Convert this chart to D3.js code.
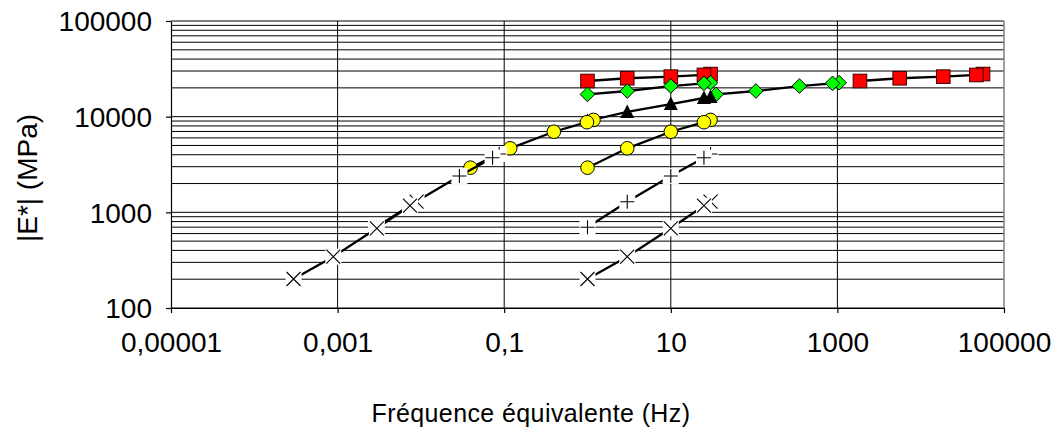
<!DOCTYPE html>
<html><head><meta charset="utf-8">
<script src="https://cdn.jsdelivr.net/npm/d3@7/dist/d3.min.js"></script>
<style>body{margin:0;background:#fff}svg{display:block}</style>
</head><body><svg id="c" width="1058" height="445"></svg>
<script>
// ---- data ----
const xTickValues = [1e-5, 1e-3, 1e-1, 10, 1000, 100000];
const xTickLabels = ["0,00001", "0,001", "0,1", "10", "1000", "100000"];
const yTickValues = [100, 1000, 10000, 100000];
const yTickLabels = ["100", "1000", "10000", "100000"];

const freqRaw = [30, 25, 10, 3, 1];
const eRed    = [27900, 27300, 26200, 25200, 23600];
const eGreen  = [22650, 22300, 20900, 18550, 17100];
const eTri    = [16060, 15670, 13560, 11200, 9010];
const eYellow = [9250, 8750, 6960, 4670, 2930];
const ePlus   = [4070, 3725, 2400, 1291, 698];
const eCross  = [1291, 1173, 681, 344, 201];

const fRedShift    = [56000, 46650, 18660, 5600, 1866];
const fGreenShift  = [1050, 875, 350, 105, 35];
const fYellowShift = [1.18, 0.985, 0.394, 0.118, 0.0394];
const fPlusShift   = [0.087, 0.0725, 0.029, 0.0087, 0.0029];
const fCrossShift  = [0.00888, 0.0074, 0.00296, 0.000888, 0.000296];

const series = [
  {f: freqRaw, e: eRed, m: "square"},
  {f: fRedShift, e: eRed, m: "square"},
  {f: freqRaw, e: eGreen, m: "diamond"},
  {f: fGreenShift, e: eGreen, m: "diamond"},
  {f: freqRaw, e: eTri, m: "triangle"},
  {f: freqRaw, e: eYellow, m: "circle"},
  {f: fYellowShift, e: eYellow, m: "circle"},
  {f: freqRaw, e: ePlus, m: "plus"},
  {f: fPlusShift, e: ePlus, m: "plus"},
  {f: freqRaw, e: eCross, m: "cross"},
  {f: fCrossShift, e: eCross, m: "cross"}
];

// ---- layout ----
const L = 171, R = 1004, T = 21, B = 308;
const FONT = "'Liberation Sans', Arial, sans-serif";
const svg = d3.select("#c");
const x = d3.scaleLog().domain([1e-5, 1e5]).range([L, R]);
const y = d3.scaleLog().domain([100, 100000]).range([B, T]);

// horizontal gridlines (major + minor)
const hGrid = [];
yTickValues.slice(0, 3).forEach(d => { for (let k = 1; k <= 9; k++) hGrid.push(d * k); });
hGrid.push(100000);
svg.append("g").selectAll("line").data(hGrid).join("line")
  .attr("x1", L).attr("x2", R)
  .attr("y1", d => y(d)).attr("y2", d => y(d))
  .attr("stroke", "#000").attr("stroke-width", 1);
// vertical gridlines
svg.append("g").selectAll("line").data(xTickValues.slice(1, -1)).join("line")
  .attr("x1", d => x(d)).attr("x2", d => x(d))
  .attr("y1", T).attr("y2", B)
  .attr("stroke", "#000").attr("stroke-width", 1);
// right border
svg.append("line").attr("x1", R).attr("x2", R).attr("y1", T).attr("y2", B)
  .attr("stroke", "#808080").attr("stroke-width", 1.5);

// axes
const yAxis = d3.axisLeft(y).tickValues(yTickValues)
  .tickFormat((d, i) => yTickLabels[i]).tickSize(5).tickSizeOuter(0).tickPadding(14);
const gy = svg.append("g").attr("transform", `translate(${L},0)`).call(yAxis);
const xAxis = d3.axisBottom(x).tickValues(xTickValues)
  .tickFormat((d, i) => xTickLabels[i]).tickSize(5).tickSizeOuter(0).tickPadding(19);
const gx = svg.append("g").attr("transform", `translate(0,${B})`).call(xAxis);
[gx, gy].forEach(g => {
  g.selectAll("text").attr("font-family", FONT).attr("font-size", 28).attr("fill", "#000");
  g.selectAll("line,path").attr("stroke", "#000").attr("stroke-width", 1.2);
});
gy.selectAll("text").attr("dy", "0.35em");

// titles
svg.append("text").attr("x", 531).attr("y", 422).attr("text-anchor", "middle")
  .attr("font-family", FONT).attr("font-size", 25).attr("letter-spacing", 0.4)
  .text("Fréquence équivalente (Hz)");
svg.append("text").attr("transform", "translate(37,178) rotate(-90)")
  .attr("text-anchor", "middle").attr("font-family", FONT).attr("font-size", 28)
  .text("|E*| (MPa)");

// series lines and markers
const line = d3.line().x(d => x(d[0])).y(d => y(d[1]));
const pg = svg.append("g");
series.forEach(s => {
  const pts = s.f.map((f, i) => [f, s.e[i]]);
  pg.append("path").attr("d", line(pts)).attr("fill", "none")
    .attr("stroke", "#000").attr("stroke-width", 2.3);
  pts.forEach(p => {
    const cx = x(p[0]), cy = y(p[1]);
    const g = pg.append("g").attr("transform", `translate(${cx},${cy})`);
    if (s.m === "square") {
      g.append("rect").attr("x", -6.8).attr("y", -6.8).attr("width", 13.6).attr("height", 13.6)
        .attr("fill", "#ff0000").attr("stroke", "#400000").attr("stroke-width", 1);
    } else if (s.m === "diamond") {
      g.append("path").attr("d", "M0,-7.3L7.3,0L0,7.3L-7.3,0Z")
        .attr("fill", "#00ff00").attr("stroke", "#000").attr("stroke-width", 1);
    } else if (s.m === "triangle") {
      g.append("path").attr("d", "M0,-7.5L7,6L-7,6Z").attr("fill", "#000");
    } else if (s.m === "circle") {
      g.append("circle").attr("r", 6.8)
        .attr("fill", "#ffff00").attr("stroke", "#000").attr("stroke-width", 1);
    } else if (s.m === "plus") {
      g.append("rect").attr("x", -8).attr("y", -8).attr("width", 16).attr("height", 16).attr("fill", "#fff");
      g.append("path").attr("d", "M-7,0H7M0,-7V7").attr("stroke", "#000").attr("stroke-width", 1.1);
    } else if (s.m === "cross") {
      g.append("rect").attr("x", -8).attr("y", -8).attr("width", 16).attr("height", 16).attr("fill", "#fff");
      g.append("path").attr("d", "M-7,-7L7,7M7,-7L-7,7").attr("stroke", "#000").attr("stroke-width", 1.1);
    }
  });
});
</script></body></html>
